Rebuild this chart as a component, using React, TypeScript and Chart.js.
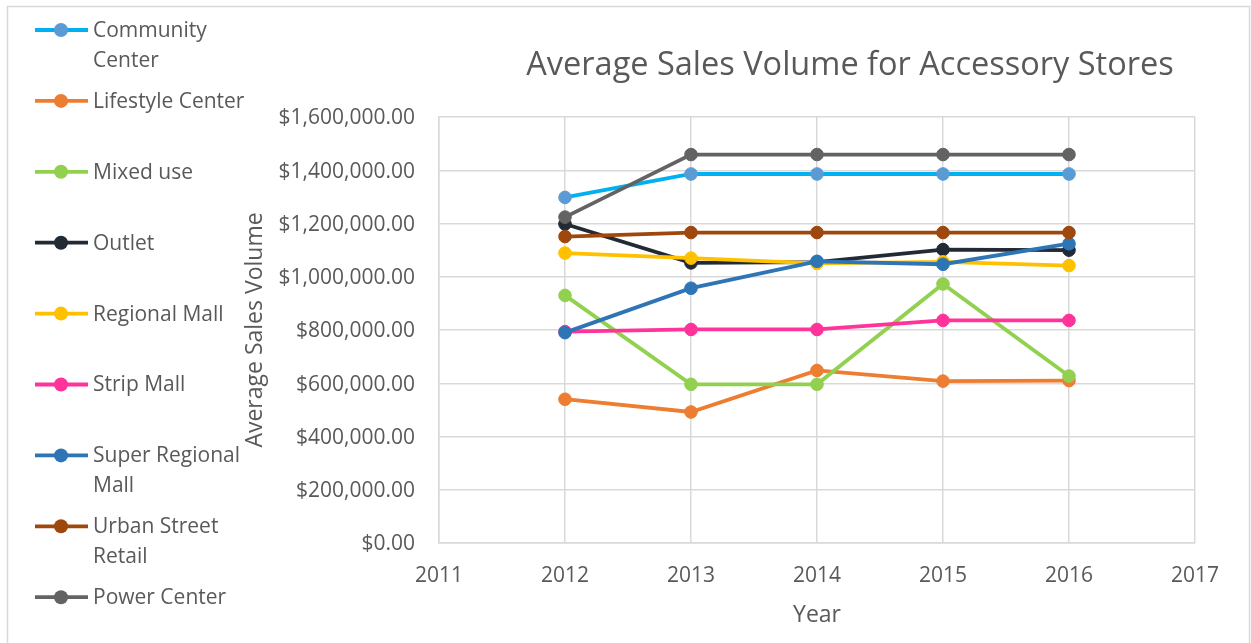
import React, { useEffect, useRef } from "react";
import { Chart, registerables } from "chart.js";

Chart.register(...registerables);

const chartTitle = "Average Sales Volume for Accessory Stores";
const xAxisTitle = "Year";
const yAxisTitle = "Average Sales Volume";

const years = [2012, 2013, 2014, 2015, 2016];
const xMin = 2011;
const xMax = 2017;
const yMax = 1600000;
const yStep = 200000;

const seriesNames = [
  "Community Center",
  "Lifestyle Center",
  "Mixed use",
  "Outlet",
  "Regional Mall",
  "Strip Mall",
  "Super Regional Mall",
  "Urban Street Retail",
  "Power Center",
];

const communityCenter = [1298000, 1386000, 1386000, 1386000, 1386000];
const lifestyleCenter = [540000, 492000, 648000, 608000, 610000];
const mixedUse = [930000, 596000, 596000, 973000, 627000];
const outlet = [1198000, 1052000, 1055000, 1102000, 1100000];
const regionalMall = [1089000, 1070000, 1050000, 1056000, 1042000];
const stripMall = [794000, 802000, 802000, 836000, 836000];
const superRegionalMall = [790000, 957000, 1058000, 1047000, 1124000];
const urbanStreetRetail = [1151000, 1166000, 1166000, 1166000, 1166000];
const powerCenter = [1224000, 1459000, 1459000, 1459000, 1459000];

const seriesValues = [
  communityCenter,
  lifestyleCenter,
  mixedUse,
  outlet,
  regionalMall,
  stripMall,
  superRegionalMall,
  urbanStreetRetail,
  powerCenter,
];

const lineColors = [
  "#00B0F0",
  "#ED7D31",
  "#92D050",
  "#222A35",
  "#FFC000",
  "#FF3399",
  "#2E75B6",
  "#9E480E",
  "#636363",
];
const markerColors = [
  "#5B9BD5",
  "#ED7D31",
  "#92D050",
  "#222A35",
  "#FFC000",
  "#FF3399",
  "#2E75B6",
  "#9E480E",
  "#636363",
];

const FONT = "'Open Sans', 'DejaVu Sans', sans-serif";
const TEXT = "#595959";
const GRID = "#D9D9D9";

function wrapText(ctx: CanvasRenderingContext2D, text: string, maxWidth: number): string[] {
  const words = text.split(" ");
  const lines: string[] = [];
  let cur = "";
  for (const w of words) {
    const test = cur ? cur + " " + w : w;
    if (cur && ctx.measureText(test).width > maxWidth) {
      lines.push(cur);
      cur = w;
    } else {
      cur = test;
    }
  }
  if (cur) lines.push(cur);
  return lines;
}

const decorPlugin = {
  id: "decor",
  afterDraw(chart: any) {
    const ctx: CanvasRenderingContext2D = chart.ctx;
    ctx.save();
    // frame
    ctx.strokeStyle = GRID;
    ctx.lineWidth = 1.5;
    ctx.strokeRect(7.5, 6.5, 1242, 660);
    // title
    ctx.fillStyle = TEXT;
    ctx.font = `32.5px ${FONT}`;
    ctx.textAlign = "center";
    ctx.textBaseline = "alphabetic";
    ctx.fillText(chartTitle, 850, 75);
    // legend
    ctx.font = `21px ${FONT}`;
    ctx.textAlign = "left";
    ctx.textBaseline = "middle";
    chart.data.datasets.forEach((ds: any, i: number) => {
      const cy = 30 + i * 70.9;
      ctx.strokeStyle = ds.borderColor;
      ctx.lineWidth = 3.8;
      ctx.beginPath();
      ctx.moveTo(35, cy);
      ctx.lineTo(88, cy);
      ctx.stroke();
      ctx.fillStyle = ds.pointBackgroundColor;
      ctx.beginPath();
      ctx.arc(61, cy, 7, 0, Math.PI * 2);
      ctx.fill();
      ctx.fillStyle = TEXT;
      const lines = wrapText(ctx, ds.label, 162);
      lines.forEach((ln, j) => ctx.fillText(ln, 93, cy + 1 + j * 30));
    });
    ctx.restore();
  },
};

export default function App() {
  const ref = useRef<HTMLCanvasElement>(null);
  useEffect(() => {
    if (!ref.current) return;
    Chart.defaults.font.family = FONT;
    const n = seriesNames.length;
    const chart = new Chart(ref.current, {
      type: "line",
      data: {
        datasets: seriesNames.map((name, i) => ({
          label: name,
          data: years.map((yr, k) => ({ x: yr, y: seriesValues[i][k] })),
          borderColor: lineColors[i],
          backgroundColor: markerColors[i],
          pointBackgroundColor: markerColors[i],
          pointBorderColor: markerColors[i],
          pointRadius: 6.3,
          pointBorderWidth: 1,
          borderWidth: 3.8,
          tension: 0,
          order: n - i,
        })),
      },
      options: {
        animation: false,
        responsive: false,
        maintainAspectRatio: false,
        layout: { padding: { left: 238, right: 56, top: 117, bottom: 10 } },
        plugins: {
          legend: { display: false },
          tooltip: { enabled: false },
          title: { display: false },
        },
        scales: {
          x: {
            type: "linear",
            min: xMin,
            max: xMax,
            afterFit: (scale: any) => {
              scale.height = 90;
            },
            ticks: {
              stepSize: 1,
              color: TEXT,
              font: { size: 21 },
              padding: 20,
              callback: (v: any) => String(v),
            },
            grid: { color: GRID, lineWidth: 1.5, drawTicks: false },
            border: { color: GRID, width: 1.5 },
            title: {
              display: true,
              text: xAxisTitle,
              color: TEXT,
              font: { size: 23 },
              padding: { top: 4, bottom: 4 },
            },
          },
          y: {
            min: 0,
            max: yMax,
            afterFit: (scale: any) => {
              scale.width = 201;
            },
            ticks: {
              stepSize: yStep,
              color: TEXT,
              font: { size: 21 },
              padding: 24,
              labelOffset: 1.5,
              callback: (v: any) =>
                "$" + Number(v).toLocaleString("en-US", { minimumFractionDigits: 2, maximumFractionDigits: 2 }),
            },
            grid: { color: GRID, lineWidth: 1.5, drawTicks: false },
            border: { color: GRID, width: 1.5 },
            title: {
              display: true,
              text: yAxisTitle,
              color: TEXT,
              font: { size: 23 },
              padding: { top: 4, bottom: 4 },
            },
          },
        },
      },
      plugins: [decorPlugin],
    });
    return () => chart.destroy();
  }, []);
  return (
    <div style={{ position: "fixed", left: 0, top: 0, width: 1251, height: 643, background: "#fff" }}>
      <canvas ref={ref} width={1251} height={643} style={{ width: 1251, height: 643 }} />
    </div>
  );
}
